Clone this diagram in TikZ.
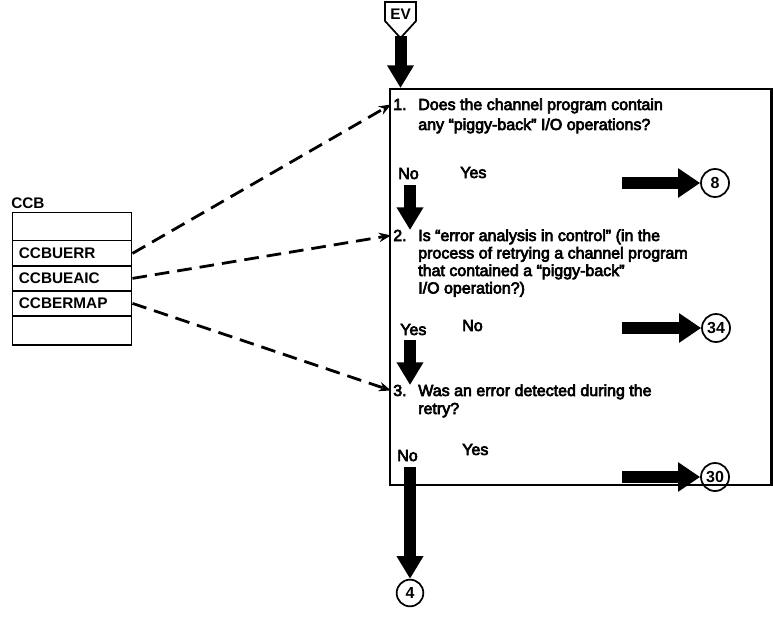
\documentclass[tikz,border=0pt]{standalone}
\usepackage{fontspec}
\setmainfont{Liberation Sans}
\newfontfamily\medfont{Liberation Sans}[FakeBold=4]
\usetikzlibrary{arrows.meta,calc}
\begin{document}
\begin{tikzpicture}[x=0.75pt,y=-0.75pt,
  txt/.style={anchor=base west,inner sep=0pt,font=\medfont\fontsize{12}{14}\selectfont},
  num/.style={anchor=base west,inner sep=1.5pt,font=\medfont\fontsize{12}{14}\selectfont},
  row/.style={draw,line width=1.1pt,anchor=north west,minimum width=89.25pt,
    inner sep=0pt,font=\bfseries\fontsize{11.5}{14}\selectfont},
  bigarrow/.style={line width=9pt,-{Triangle[length=17pt,width=19pt]}},
  sidearrow/.style={line width=9.5pt,-{Triangle[length=16.5pt,width=21pt]}},
  dasharrow/.style={line width=2.1pt,dash pattern=on 11pt off 6pt,
    -{Stealth[length=9pt,width=7pt]}},
  offpage/.style={circle,draw,line width=1.3pt,minimum size=21pt,inner sep=0pt,
    font=\bfseries\fontsize{12}{14}\selectfont}]
\useasboundingbox (0,0) rectangle (773,624);

% decision frame
\node[draw,line width=1.8pt,anchor=north west,minimum width=286pt,
  minimum height=297pt,inner sep=0pt] (frame) at (389,88) {};

% entry connector
\draw[line width=1.3pt,fill=white] (385,2) -- (416,2) -- (416,21) -- (400.5,38)
  -- (385,21) -- cycle;
\node[font=\bfseries\fontsize{11.5}{13}\selectfont] (ev) at (400.5,14) {EV};
\coordinate (evtip) at (400.5,36);
\draw[bigarrow] (evtip) -- (evtip |- frame.north);

% control block
\node[anchor=base west,inner sep=0pt,font=\bfseries\fontsize{11.5}{13}\selectfont]
  (ccb) at (11,208) {CCB};
\node[row,minimum height=21pt] (r0) at (12,212) {};
\node[row,minimum height=19pt,text width=80pt,align=left] (uerr) at (12,240) {CCBUERR};
\node[row,minimum height=19pt,text width=80pt,align=left] (ueaic) at (12,265) {CCBUEAIC};
\node[row,minimum height=19pt,text width=80pt,align=left] (ermap) at (12,290) {CCBERMAP};
\node[row,minimum height=22pt] (r4) at (12,315) {};

% question 1
\node[num] (n1) at (391,110) {1.};
\node[txt] (q1a) at (418,110) {Does the channel program contain};
\node[txt] (q1b) at (418,130) {any “piggy-back” I/O operations?};
\node[txt] (no1) at (398,179) {No};
\node[txt] (yes1) at (460,178) {Yes};
\node[offpage] (c8) at (715,183) {8};
\coordinate (s1) at (622,183);
\draw[sidearrow] (s1) -- (c8.west);
\coordinate (d1a) at (410,185);
\coordinate (d1b) at (410,230);
\draw[bigarrow] (d1a) -- (d1b);

% question 2
\node[num] (n2) at (391,241) {2.};
\node[txt] (q2a) at (418,241) {Is “error analysis in control” (in the};
\node[txt] (q2b) at (418,258.5) {process of retrying a channel program};
\node[txt] (q2c) at (418,276) {that contained a “piggy-back”};
\node[txt] (q2d) at (418,293.5) {I/O operation?)};
\node[txt] (yes2) at (400,335) {Yes};
\node[txt] (no2) at (462,331) {No};
\node[offpage] (c34) at (716,328) {34};
\coordinate (s2) at (622,328);
\draw[sidearrow] (s2) -- (c34.west);
\coordinate (d2a) at (410,340);
\coordinate (d2b) at (410,385);
\draw[bigarrow] (d2a) -- (d2b);

% question 3
\node[num] (n3) at (391,396) {3.};
\node[txt] (q3a) at (418,396) {Was an error detected during the};
\node[txt] (q3b) at (418,414) {retry?};
\node[txt] (no3) at (397,461) {No};
\node[txt] (yes3) at (462,455) {Yes};
\node[offpage] (c30) at (715,477) {30};
\coordinate (s3) at (622,477);
\draw[sidearrow] (s3) -- (c30.west);
\node[offpage,minimum size=20pt] (c4) at (410,593) {4};
\coordinate (d3a) at (410,467);
\draw[bigarrow] (d3a) -- (c4.north);

% field references
\draw[dasharrow] (uerr.east) -- (n1.west);
\draw[dasharrow] (ueaic.east) -- (n2.west);
\draw[dasharrow] (ermap.east) -- (n3.west);
\end{tikzpicture}
\end{document}
